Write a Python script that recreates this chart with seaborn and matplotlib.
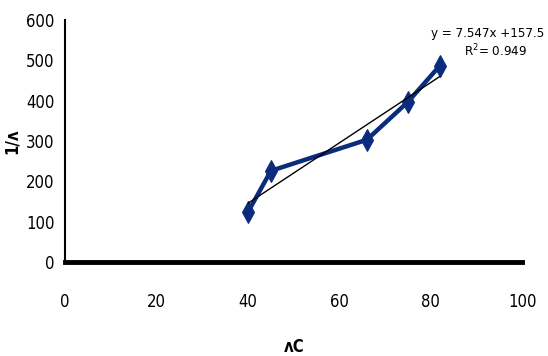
import matplotlib.pyplot as plt
import seaborn as sns
import numpy as np
import pandas as pd

# ------------------- data ------------------------------------------
temp_c = [40, 45, 66, 75, 82]
inv_lambda = [124, 226, 303, 397, 487]
x_ticks = [0, 20, 40, 60, 80, 100]
y_ticks = [0, 100, 200, 300, 400, 500, 600]
eq_text = 'y = 7.547x +157.5'
r2_text = 'R$^2$= 0.949'

df = pd.DataFrame({'x': temp_c, 'y': inv_lambda})

sns.set_style('white')
plt.rcParams['font.family'] = ['DejaVu Sans']
plt.rcParams['font.stretch'] = 'condensed'
plt.rcParams['text.color'] = 'black'
plt.rcParams['axes.labelcolor'] = 'black'
plt.rcParams['xtick.color'] = 'black'
plt.rcParams['ytick.color'] = 'black'

fig = plt.figure(figsize=(5.48, 3.56), dpi=100)
ax = fig.add_axes([0.119, 0.264, 0.834, 0.680])

sns.lineplot(data=df, x='x', y='y', ax=ax, color='#0B2C7C', linewidth=3.2,
             marker='d', markersize=11, markeredgecolor='#0B2C7C')
# linear trendline
sns.regplot(data=df, x='x', y='y', ax=ax, scatter=False, ci=None,
            line_kws={'color': 'black', 'linewidth': 1.0})

ax.set_xlim(0, 100)
ax.set_ylim(0, 600)
ax.set_xticks(x_ticks)
ax.set_yticks(y_ticks)
ax.tick_params(axis='both', direction='out', length=4, width=1, labelsize=12)
ax.tick_params(axis='x', pad=18)
for s in ['top', 'right']:
    ax.spines[s].set_visible(False)
ax.spines['left'].set_color('black')
ax.spines['left'].set_linewidth(1.5)
ax.spines['bottom'].set_color('black')
ax.spines['bottom'].set_linewidth(3.5)
ax.set_xlabel('ʌC', fontsize=12, fontweight='bold', labelpad=20)
ax.set_ylabel('1/ʌ', fontsize=12, fontweight='bold', labelpad=4)

fig.text(0.993, 0.905, eq_text, ha='right', va='center', fontsize=9.5)
fig.text(0.905, 0.858, r2_text, ha='center', va='center', fontsize=9.5)

fig.savefig('out.png', dpi=100)
